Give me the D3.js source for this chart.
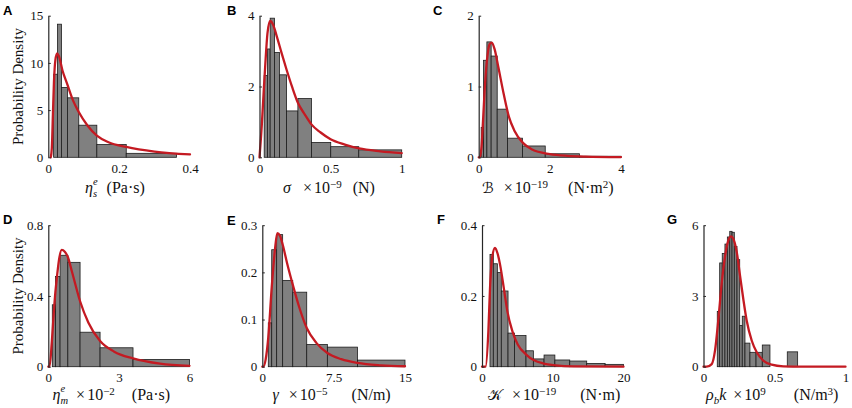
<!DOCTYPE html>
<html><head><meta charset="utf-8">
<script src="https://cdn.jsdelivr.net/npm/d3@7"></script>
<style>body{margin:0;background:#fff}svg{display:block}</style>
</head><body>
<svg id="chart" width="852" height="408"></svg>
<script>
// ---------- DATA ----------
// Panel A: eta_s^e (Pa·s)
const aEdges   = [0.015, 0.026, 0.037, 0.054, 0.086, 0.137, 0.220, 0.362];
const aDensity = [8.8, 14.1, 7.4, 6.3, 3.4, 1.35, 0.42];
const aFitX    = [0.007, 0.010, 0.013, 0.016, 0.020, 0.025, 0.030, 0.040, 0.053, 0.070, 0.086, 0.110, 0.137, 0.170, 0.220, 0.300, 0.400];
const aFitY    = [0, 1.0, 4.5, 8.0, 10.3, 11.0, 10.7, 9.2, 7.8, 6.0, 4.8, 3.4, 2.3, 1.6, 1.1, 0.6, 0.3];
const aXTicks  = [0, 0.2, 0.4];   const aXTickLabels = ["0", "0.2", "0.4"];
const aYTicks  = [0, 5, 10, 15];  const aYTickLabels = ["0", "5", "10", "15"];
const aLabel   = ["*η", "_*s", "^*e", "(Pa·s)"];

// Panel B: sigma x 1e-9 (N)
const bEdges   = [0.033, 0.056, 0.075, 0.105, 0.140, 0.190, 0.270, 0.365, 0.501, 0.698, 1.0];
const bDensity = [2.31, 3.06, 3.93, 2.96, 2.33, 1.31, 1.66, 0.42, 0.30, 0.21];
const bFitX    = [0, 0.016, 0.028, 0.040, 0.056, 0.075, 0.095, 0.122, 0.155, 0.190, 0.230, 0.270, 0.320, 0.365, 0.430, 0.500, 0.600, 0.700, 0.850, 1.0];
const bFitY    = [0, 0.9, 1.75, 2.57, 3.5, 3.85, 3.75, 3.41, 2.95, 2.48, 1.98, 1.54, 1.2, 0.93, 0.7, 0.51, 0.36, 0.25, 0.17, 0.12];
const bXTicks  = [0, 0.5, 1];     const bXTickLabels = ["0", "0.5", "1"];
const bYTicks  = [0, 2, 4];       const bYTickLabels = ["0", "2", "4"];
const bLabel   = ["*σ", "×", "10", "^−9", "(N)"];

// Panel C: B x 1e-19 (N·m^2)
const cEdges   = [0.07, 0.135, 0.23, 0.35, 0.52, 0.81, 1.23, 1.87, 2.83, 4.0];
const cDensity = [0.42, 1.37, 1.63, 1.43, 0.68, 0.27, 0.16, 0.05, 0.015];
const cFitX    = [0, 0.03, 0.08, 0.12, 0.18, 0.25, 0.31, 0.37, 0.45, 0.55, 0.70, 0.85, 1.0, 1.25, 1.5, 2.0, 2.5, 3.0, 4.0];
const cFitY    = [0, 0, 0.15, 0.5, 1.05, 1.45, 1.6, 1.62, 1.52, 1.28, 0.9, 0.57, 0.38, 0.2, 0.11, 0.045, 0.02, 0.01, 0.003];
const cXTicks  = [0, 2, 4];       const cXTickLabels = ["0", "2", "4"];
const cYTicks  = [0, 1, 2];       const cYTickLabels = ["0", "1", "2"];
const cLabel   = ["ℬ", "×", "10", "^−19", "(N·m", "^2", ")"];

// Panel D: eta_m^e x 1e-2 (Pa·s)
const dEdges   = [0.17, 0.31, 0.50, 0.83, 1.35, 2.2, 3.6, 6.0];
const dDensity = [0.35, 0.51, 0.63, 0.59, 0.195, 0.107, 0.041];
const dFitX    = [0, 0.05, 0.15, 0.23, 0.30, 0.37, 0.45, 0.57, 0.70, 0.83, 1.0, 1.35, 1.7, 2.2, 2.8, 3.6, 4.75, 6.0];
const dFitY    = [0, 0, 0.14, 0.30, 0.42, 0.51, 0.60, 0.66, 0.65, 0.62, 0.54, 0.37, 0.25, 0.145, 0.085, 0.047, 0.017, 0.005];
const dXTicks  = [0, 3, 6];       const dXTickLabels = ["0", "3", "6"];
const dYTicks  = [0, 0.4, 0.8];   const dYTickLabels = ["0", "0.4", "0.8"];
const dLabel   = ["*η", "_*m", "^*e", "×", "10", "^−2", "(Pa·s)"];

// Panel E: gamma x 1e-5 (N/m)
const eEdges   = [0.63, 0.99, 1.51, 2.14, 3.2, 4.67, 6.84, 10.0, 15.0];
const eDensity = [0.093, 0.248, 0.280, 0.183, 0.158, 0.047, 0.0415, 0.014];
const eFitX    = [0, 0.1, 0.35, 0.63, 0.99, 1.35, 1.58, 1.85, 2.14, 2.6, 3.2, 3.9, 4.67, 5.7, 6.84, 8.3, 10, 12.5, 15];
const eFitY    = [0, 0, 0.015, 0.062, 0.168, 0.252, 0.283, 0.278, 0.259, 0.22, 0.174, 0.125, 0.082, 0.05, 0.029, 0.016, 0.008, 0.003, 0.001];
const eXTicks  = [0, 7.5, 15];    const eXTickLabels = ["0", "7.5", "15"];
const eYTicks  = [0, 0.1, 0.2, 0.3]; const eYTickLabels = ["0", "0.1", "0.2", "0.3"];
const eLabel   = ["*γ", "×", "10", "^−5", "(N/m)"];

// Panel F: K x 1e-19 (N·m)
const fEdges   = [1.13, 1.6, 2.17, 2.73, 3.68, 4.6, 6.22, 7.26, 8.77, 10.3, 12.4, 14.8, 17.4, 20];
const fDensity = [0.317, 0.291, 0.266, 0.214, 0.095, 0.088, 0.045, 0.022, 0.033, 0.019, 0.016, 0.0093, 0.0066];
const fFitX    = [0, 0.5, 0.9, 1.13, 1.45, 1.84, 2.2, 2.54, 3.1, 3.58, 4.3, 5.05, 6.2, 7.36, 8.7, 10.4, 13, 20];
const fFitY    = [0, 0, 0.10, 0.22, 0.31, 0.336, 0.32, 0.29, 0.22, 0.157, 0.10, 0.063, 0.035, 0.018, 0.009, 0.004, 0.001, 0];
const fXTicks  = [0, 10, 20];     const fXTickLabels = ["0", "10", "20"];
const fYTicks  = [0, 0.2, 0.4];   const fYTickLabels = ["0", "0.2", "0.4"];
const fLabel   = ["𝒦", "×", "10", "^−19", "(N·m)"];

// Panel G: rho_b k x 1e9 (N/m^3)
const gEdges   = [0.097, 0.114, 0.132, 0.151, 0.168, 0.185, 0.201, 0.217, 0.236, 0.255, 0.273, 0.292, 0.327, 0.370, 0.414, 0.468];
const gDensity = [2.34, 4.4, 4.8, 5.2, 5.5, 5.74, 5.7, 5.1, 4.54, 1.75, 2.14, 1.0, 0.61, 0.61, 0.92];
const gOutlierEdges = [0.590, 0.663];
const gOutlierDensity = [0.63];
const gFitX    = [0, 0.022, 0.058, 0.081, 0.104, 0.128, 0.151, 0.175, 0.194, 0.21, 0.234, 0.257, 0.28, 0.304, 0.34, 0.375, 0.421, 0.48, 0.562, 0.7, 1.0];
const gFitY    = [0, 0, 0.11, 0.68, 1.96, 3.52, 4.65, 5.36, 5.53, 5.43, 4.87, 3.87, 2.88, 1.96, 1.1, 0.61, 0.26, 0.085, 0.015, 0, 0];
const gXTicks  = [0, 0.5, 1];     const gXTickLabels = ["0", "0.5", "1"];
const gYTicks  = [0, 3, 6];       const gYTickLabels = ["0", "3", "6"];
const gLabel   = ["*ρ", "_*b", "*k", "×", "10", "^9", "(N/m", "^3", ")"];

const yTitle = "Probability Density";

// ---------- helpers to turn arrays into bins ----------
function bins(edges, dens) {
  return dens.map((d, i) => ({x0: edges[i], x1: edges[i + 1], v: d}));
}
function pts(xs, ys) { return xs.map((x, i) => [x, ys[i]]); }

// ---------- layout ----------
const ROW1 = {top: 15.7, bottom: 157.3, labelY: 193};
const ROW2 = {top: 225.2, bottom: 366.7, labelY: 400};

const panels = [
  {id: "A", row: ROW1, x0: 48.3, x1: 190, lx: 3, ly: 15, labX: 85, gapX: 10, gapP: 9,
   bins: bins(aEdges, aDensity), fit: pts(aFitX, aFitY), xd: [0, 0.4], yd: [0, 15], xt: aXTicks, xtl: aXTickLabels, yt: aYTicks, ytl: aYTickLabels, label: aLabel, title: true},
  {id: "B", row: ROW1, x0: 259.5, x1: 401.7, lx: 227, ly: 15, labX: 283, gapX: 12, gapP: 11,
   bins: bins(bEdges, bDensity), fit: pts(bFitX, bFitY), xd: [0, 1], yd: [0, 4], xt: bXTicks, xtl: bXTickLabels, yt: bYTicks, ytl: bYTickLabels, label: bLabel},
  {id: "C", row: ROW1, x0: 478.7, x1: 621, lx: 433, ly: 15, labX: 482, gapX: 10, gapP: 20,
   bins: bins(cEdges, cDensity), fit: pts(cFitX, cFitY), xd: [0, 4], yd: [0, 2], xt: cXTicks, xtl: cXTickLabels, yt: cYTicks, ytl: cYTickLabels, label: cLabel},
  {id: "D", row: ROW2, x0: 48.3, x1: 189.5, lx: 3, ly: 224, labX: 52.5, gapX: 11, gapP: 17,
   bins: bins(dEdges, dDensity), fit: pts(dFitX, dFitY), xd: [0, 6], yd: [0, 0.8], xt: dXTicks, xtl: dXTickLabels, yt: dYTicks, ytl: dYTickLabels, label: dLabel, title: true},
  {id: "E", row: ROW2, x0: 262.3, x1: 405, lx: 227, ly: 225, labX: 272.5, gapX: 10, gapP: 24,
   bins: bins(eEdges, eDensity), fit: pts(eFitX, eFitY), xd: [0, 15], yd: [0, 0.3], xt: eXTicks, xtl: eXTickLabels, yt: eYTicks, ytl: eYTickLabels, label: eLabel},
  {id: "F", row: ROW2, x0: 482, x1: 623.5, lx: 437, ly: 224, labX: 488, gapX: 10, gapP: 24,
   bins: bins(fEdges, fDensity), fit: pts(fFitX, fFitY), xd: [0, 20], yd: [0, 0.4], xt: fXTicks, xtl: fXTickLabels, yt: fYTicks, ytl: fYTickLabels, label: fLabel},
  {id: "G", row: ROW2, x0: 703.5, x1: 845.5, lx: 667, ly: 224, labX: 706, gapX: 7, gapP: 28,
   bins: bins(gEdges, gDensity).concat(bins(gOutlierEdges, gOutlierDensity)), fit: pts(gFitX, gFitY), xd: [0, 1], yd: [0, 6], xt: gXTicks, xtl: gXTickLabels, yt: gYTicks, ytl: gYTickLabels, label: gLabel}
];

const svg = d3.select("#chart");
const SERIF = "'Liberation Serif','Times New Roman',Times,serif";
const BAR_FILL = "#808080", BAR_STROKE = "#1c1c1c", FIT = "#c41a22", AXIS = "#262626";
const MAIN = 16, SCRIPT = 11, STACK = 10.5;

panels.forEach(p => {
  const x = d3.scaleLinear().domain(p.xd).range([p.x0, p.x1]);
  const y = d3.scaleLinear().domain(p.yd).range([p.row.bottom, p.row.top]);
  const g = svg.append("g");

  // bars
  g.selectAll("rect").data(p.bins).join("rect")
    .attr("x", d => x(d.x0)).attr("width", d => x(d.x1) - x(d.x0))
    .attr("y", d => y(d.v)).attr("height", d => y(0) - y(d.v))
    .attr("fill", BAR_FILL).attr("stroke", BAR_STROKE).attr("stroke-width", 0.8);

  // fitted curve
  g.append("path").datum(p.fit)
    .attr("d", d3.line().x(d => x(d[0])).y(d => y(d[1])).curve(d3.curveMonotoneX))
    .attr("fill", "none").attr("stroke", FIT).attr("stroke-width", 2.3)
    .attr("stroke-linejoin", "round").attr("stroke-linecap", "round");

  // y axis
  const ya = g.append("g").attr("transform", `translate(${p.x0},0)`)
    .call(d3.axisLeft(y).tickValues(p.yt).tickFormat((d, i) => p.ytl[i]).tickSize(-2.5).tickSizeOuter(0).tickPadding(5));
  ya.select(".domain").attr("stroke", AXIS).attr("stroke-width", 1.2);
  ya.selectAll(".tick line").attr("stroke", AXIS).attr("stroke-width", 1);
  ya.selectAll(".tick text").attr("font-family", SERIF).attr("font-size", 13).attr("fill", "#111");

  // x axis (labels only)
  const xa = g.append("g").attr("transform", `translate(0,${p.row.bottom})`)
    .call(d3.axisBottom(x).tickValues(p.xt).tickFormat((d, i) => p.xtl[i]).tickSize(0).tickPadding(6.5));
  xa.select(".domain").remove();
  xa.selectAll(".tick text").attr("font-family", SERIF).attr("font-size", 13).attr("fill", "#111");

  // panel letter
  svg.append("text").attr("x", p.lx).attr("y", p.ly).text(p.id)
    .attr("font-family", "'Liberation Sans',Arial,sans-serif").attr("font-weight", "bold")
    .attr("font-size", 13).attr("fill", "#000");

  // y title
  if (p.title) {
    const cy = (p.row.top + p.row.bottom) / 2;
    svg.append("text").attr("transform", `translate(23,${cy}) rotate(-90)`)
      .attr("text-anchor", "middle").attr("font-family", SERIF).attr("font-size", 15)
      .attr("fill", "#111").text(yTitle);
  }

  // x label with sub/superscripts (a sub followed by a sup is stacked)
  const t = svg.append("text").attr("x", p.labX).attr("y", p.row.labelY)
    .attr("text-anchor", "start").attr("font-family", SERIF).attr("font-size", MAIN).attr("fill", "#111");
  const toks = p.label.map(tok => {
    let s = tok, kind = "n";
    if (s[0] === "_") { kind = "sub"; s = s.slice(1); }
    else if (s[0] === "^") { kind = "sup"; s = s.slice(1); }
    let ital = false;
    if (s[0] === "*") { ital = true; s = s.slice(1); }
    return {s, kind, ital};
  });
  let shift = 0, prevW = 0;
  toks.forEach((k, i) => {
    const stackedSub = k.kind === "sub" && toks[i + 1] && toks[i + 1].kind === "sup";
    const stackedSup = k.kind === "sup" && i > 0 && toks[i - 1].kind === "sub";
    let target = 0, size = MAIN;
    if (k.kind === "sub") { target = stackedSub ? 4 : 3.5; size = stackedSub ? STACK : SCRIPT; }
    if (k.kind === "sup") { target = stackedSup ? -7.8 : -5; size = stackedSup ? STACK : SCRIPT; }
    let dx = 0;
    if (k.s === "×") dx = p.gapX;
    else if (k.s === "10") dx = 2;
    else if (k.s[0] === "(") dx = p.gapP;
    if (stackedSup) dx = -prevW;
    const ts = t.append("tspan").text(k.s)
      .attr("dy", target - shift).attr("dx", dx)
      .attr("font-size", size)
      .attr("font-style", k.ital ? "italic" : "normal");
    if (k.s === "ℬ" || k.s === "𝒦") ts.attr("font-family", "'DejaVu Serif','DejaVu Sans',serif").attr("font-size", 15);
    shift = target;
    prevW = ts.node().getComputedTextLength();
  });
});
</script>
</body></html>
